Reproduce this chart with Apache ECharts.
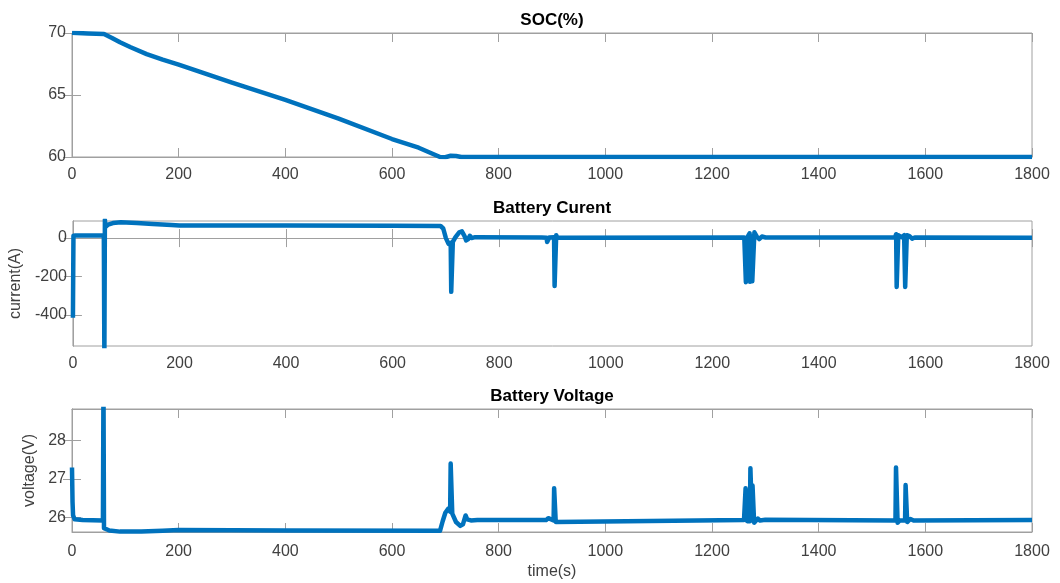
<!DOCTYPE html>
<html>
<head>
<meta charset="utf-8">
<script src="https://cdn.jsdelivr.net/npm/echarts@6/dist/echarts.min.js"></script>
<style>
html,body{margin:0;padding:0;background:#fff;}
#chart{width:1060px;height:583px;}
</style>
</head>
<body>
<div id="chart"></div>
<script>
// ---- data ----
const titles = ['SOC(%)', 'Battery Curent', 'Battery Voltage'];
const yNames = ['', 'current(A)', 'voltage(V)'];
const xName = 'time(s)';
const timeTicks = [0, 200, 400, 600, 800, 1000, 1200, 1400, 1600, 1800];
const socTicks = [60, 65, 70];
const currentTicks = [-400, -200, 0];
const voltageTicks = [26, 27, 28];

const socTime = [0, 30, 60, 75, 90, 110, 140, 170, 200, 300, 400, 500, 600, 650, 690, 700, 710, 720, 730, 1800];
const socValues = [70.02, 69.96, 69.92, 69.6, 69.25, 68.85, 68.3, 67.85, 67.45, 66.0, 64.6, 63.1, 61.45, 60.75, 60.0, 59.98, 60.1, 60.08, 60.0, 60.0];

const currentTime = [0, 1, 5, 58, 59, 60, 61, 66, 75, 90, 120, 150, 185, 200, 400, 600, 690, 695, 700, 705, 709, 710, 712, 713, 718, 725, 730, 735, 738, 742, 745, 748, 755,
  880, 889, 890, 893, 894, 903, 904, 906, 907, 909,
  1260, 1262, 1263, 1265, 1266, 1268, 1270, 1271, 1273, 1274, 1275, 1278, 1279, 1283, 1288, 1293, 1300,
  1543, 1545, 1546, 1548, 1549, 1555, 1560, 1562, 1564, 1565, 1570, 1575, 1580, 1800];
const currentValues = [-415, 12, 14, 15, -620, 95, 58, 70, 78, 82, 79, 73, 68, 66, 65, 64, 63, 50, 0, -30, -25, -280, -280, -20, 5, 30, 35, 10, -12, -5, 12, 0, 5,
  3, 2, -20, -20, 3, 4, -250, -250, 15, 2,
  3, 12, -230, -230, 5, 15, 25, -228, -228, 10, -225, -225, 30, 10, -5, 8, 3,
  3, 20, -255, -255, 15, 5, 15, -255, -255, 15, 10, -3, 3, 2];

const voltageTime = [0, 1, 2, 5, 20, 58, 59, 60, 70, 90, 130, 170, 200, 400, 690, 695, 700, 705, 709, 710, 712, 713, 720, 728, 733, 738, 741, 744, 748, 760,
  889, 890, 893, 894, 903, 904, 906, 907, 910,
  1260, 1262, 1263, 1265, 1266, 1271, 1272, 1274, 1275, 1276, 1278, 1279, 1282, 1286, 1290, 1300,
  1544, 1545, 1547, 1548, 1552, 1562, 1563, 1565, 1566, 1572, 1578, 1800];
const voltageValues = [27.3, 26.4, 26.05, 25.95, 25.93, 25.92, 29.5, 25.72, 25.66, 25.63, 25.63, 25.65, 25.67, 25.66, 25.65, 25.9, 26.12, 26.22, 26.15, 27.4, 27.4, 26.1, 25.88, 25.78, 25.82, 26.05, 25.95, 26.0, 25.92, 25.93,
  25.93, 25.98, 25.98, 25.93, 25.92, 26.76, 26.76, 25.88, 25.93,
  25.93, 25.9, 26.76, 26.76, 25.9, 25.9, 27.28, 27.28, 25.95, 26.83, 26.83, 25.86, 25.88, 25.97, 25.92, 25.94,
  25.92, 27.3, 27.3, 25.86, 25.92, 25.92, 26.84, 26.84, 25.88, 25.96, 25.92, 25.93];

// ---- layout ----
const FONT = "'Liberation Sans', Arial, sans-serif";
const AXIS_COLOR = '#a0a0a0';
const LABEL_COLOR = '#404040';
const LINE_COLOR = '#0072BD';
const plotLeft = 72, plotRight = 1032;
const grids = [
  {top: 33, height: 124},
  {top: 221, height: 125},
  {top: 409, height: 123}
];
const yRanges = [[60, 70, socTicks], [-562, 89, currentTicks], [25.62, 28.82, voltageTicks]];
const yGaps = [0, 39, 22];

function zip(a, b) { return a.map((t, i) => [t, b[i]]); }
const plain = v => String(v);

const option = {
  animation: false,
  backgroundColor: '#fff',
  grid: grids.map(g => ({left: plotLeft, width: plotRight - plotLeft, top: g.top, height: g.height,
    show: true, borderColor: AXIS_COLOR, borderWidth: 1, backgroundColor: '#fff', containLabel: false})),
  xAxis: [],
  yAxis: [],
  series: [],
  graphic: titles.map((t, i) => ({
    type: 'text', x: (plotLeft + plotRight) / 2, y: grids[i].top - 13,
    style: {text: t, font: 'bold 17px ' + FONT, fill: '#000', textAlign: 'center', textVerticalAlign: 'middle'}
  }))
};

for (let i = 0; i < 3; i++) {
  option.xAxis.push({
    type: 'value', gridIndex: i, position: 'bottom', min: 0, max: 1800, interval: 200,
    axisLine: {show: true, lineStyle: {color: AXIS_COLOR, width: 1}},
    axisTick: {show: true, inside: true, length: 9, lineStyle: {color: AXIS_COLOR}},
    axisLabel: {show: true, margin: i === 2 ? 12 : 10, color: LABEL_COLOR, fontSize: 16, fontFamily: FONT,
      customValues: timeTicks, formatter: plain},
    splitLine: {show: false},
    name: i === 2 ? xName : '', nameLocation: 'middle', nameGap: 32,
    nameTextStyle: {color: LABEL_COLOR, fontSize: 16, fontFamily: FONT}
  });
}
for (let i = 0; i < 3; i++) {
  option.xAxis.push({
    type: 'value', gridIndex: i, position: 'top', min: 0, max: 1800, interval: 200,
    axisLine: {show: true, lineStyle: {color: AXIS_COLOR, width: 1}},
    axisTick: {show: true, inside: true, length: 9, lineStyle: {color: AXIS_COLOR}},
    axisLabel: {show: false}, splitLine: {show: false}
  });
}
for (let i = 0; i < 3; i++) {
  const [mn, mx, ticks] = yRanges[i];
  option.yAxis.push({
    type: 'value', gridIndex: i, position: 'left', min: mn, max: mx,
    axisLine: {show: true, lineStyle: {color: AXIS_COLOR, width: 1}},
    axisTick: {show: true, inside: true, length: 9, lineStyle: {color: AXIS_COLOR}, customValues: ticks},
    axisLabel: {show: true, margin: 6, color: LABEL_COLOR, fontSize: 16, fontFamily: FONT, customValues: ticks, formatter: plain},
    splitLine: {show: false},
    name: yNames[i], nameLocation: 'middle', nameGap: yGaps[i],
    nameTextStyle: {color: LABEL_COLOR, fontSize: 16, fontFamily: FONT}
  });
}
for (let i = 0; i < 3; i++) {
  const [mn, mx, ticks] = yRanges[i];
  option.yAxis.push({
    type: 'value', gridIndex: i, position: 'right', min: mn, max: mx,
    axisLine: {show: true, lineStyle: {color: AXIS_COLOR, width: 1}},
    axisTick: {show: true, inside: true, length: 9, lineStyle: {color: AXIS_COLOR}, customValues: ticks},
    axisLabel: {show: false}, splitLine: {show: false}
  });
}

const seriesData = [zip(socTime, socValues), zip(currentTime, currentValues), zip(voltageTime, voltageValues)];
seriesData.forEach((d, i) => {
  option.series.push({
    type: 'line', xAxisIndex: i, yAxisIndex: i, data: d, showSymbol: false, clip: true,
    lineStyle: {color: LINE_COLOR, width: 4.5, join: 'round', cap: 'butt'},
    itemStyle: {color: LINE_COLOR}
  });
});

const chart = echarts.init(document.getElementById('chart'), null, {renderer: 'canvas'});
chart.setOption(option);
</script>
</body>
</html>
